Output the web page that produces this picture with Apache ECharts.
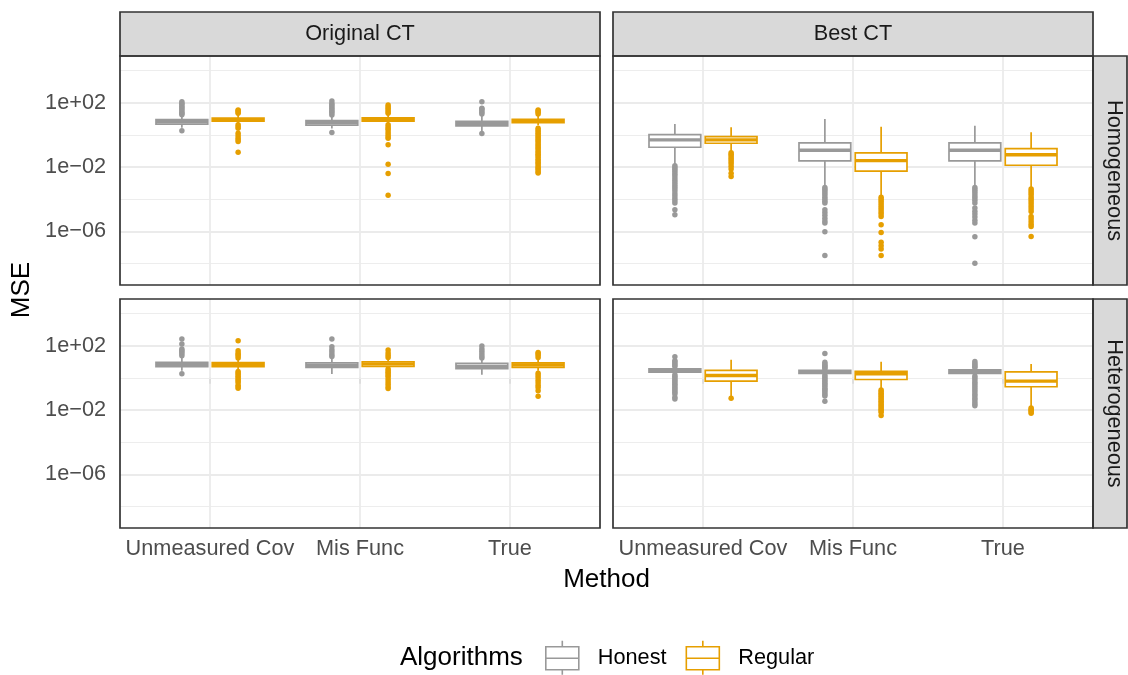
<!DOCTYPE html>
<html><head><meta charset="utf-8">
<script src="https://cdn.jsdelivr.net/npm/echarts@6/dist/echarts.min.js"></script>
<style>html,body{margin:0;padding:0;background:#fff}#chart{width:1128px;height:675px}</style>
</head><body><div id="chart"></div>
<script>
// ---------------- data ----------------
const categories = ['Unmeasured Cov', 'Mis Func', 'True'];
const colLabels = ['Original CT', 'Best CT'];
const rowLabels = ['Homogeneous', 'Heterogeneous'];
const algorithms = ['Honest', 'Regular'];
const algColors = ['#999999', '#E69F00'];
const majorBreaks = [1e-6, 1e-2, 1e2];
const minorBreaks = [1e-8, 1e-4, 1, 1e4];
const yLimits = [4.68e-10, 7.94e4];

// boxes: [lower whisker, Q1, median, Q3, upper whisker] per category
const origHomHonestBox = [[2.8, 4.6, 6.6, 8.8, 15.6], [2.45, 4.0, 5.75, 7.7, 14.5], [1.58, 3.6, 5.0, 6.9, 17]];
const origHomHonestOut = [
  [1.8, 17.8, 20.9, 25.1, 31.6, 39.8, 49, 60, 76, 93, 115],
  [1.38, 17.4, 22.4, 28.2, 35.5, 44.7, 56.2, 70.8, 89.1, 126],
  [1.2, 20, 25.1, 31.6, 39.8, 44.7, 115]
];
const origHomRegularBox = [[5.4, 7.1, 8.8, 11, 19.5], [5.2, 7.2, 8.9, 11.2, 19], [4.0, 5.75, 7.3, 9.2, 17.8]];
const origHomRegularOut = [
  [0.083, 0.38, 0.5, 0.63, 0.89, 1.26, 2.6, 3.3, 4.2, 21.9, 26.3, 31.6, 35.5],
  [0.000178, 0.004, 0.0148, 0.24, 0.62, 0.76, 1.0, 1.41, 2.0, 2.51, 3.16, 4.2, 21.9, 27.5, 35.5, 44.7, 56.2, 72.4],
  [0.0042, 0.005, 0.0065, 0.0079, 0.0098, 0.012, 0.016, 0.019, 0.025, 0.031, 0.04, 0.052, 0.063, 0.08, 0.1, 0.13,
   0.16, 0.2, 0.25, 0.32, 0.41, 0.5, 0.63, 0.8, 1.0, 1.26, 1.6, 2.0, 2.6, 20, 25.1, 30.2, 35.5]
];
const bestHomHonestBox = [[0.0138, 0.17, 0.49, 1.04, 4.8], [6.2e-4, 0.024, 0.11, 0.32, 9.8], [6.2e-4, 0.024, 0.11, 0.32, 3.7]];
const bestHomHonestOut = [
  [1.1e-5, 2.2e-5, 5.8e-5, 8e-5, 1.1e-4, 1.6e-4, 2.2e-4, 3.2e-4, 4.5e-4, 6e-4, 8e-4, 0.0011, 0.0015, 0.0021, 0.003, 0.004, 0.0055, 0.0072, 0.0095, 0.012],
  [3.2e-8, 9.5e-7, 3.3e-6, 4.5e-6, 6.5e-6, 1e-5, 1.5e-5, 2.2e-5, 5.8e-5, 7.5e-5, 1e-4, 1.35e-4, 1.8e-4, 2.4e-4, 3.2e-4, 4.2e-4, 5.4e-4],
  [1.05e-8, 4.7e-7, 3.3e-6, 5e-6, 8e-6, 1.2e-5, 1.8e-5, 2.8e-5, 5.8e-5, 8.5e-5, 1.2e-4, 1.6e-4, 2.2e-4, 3e-4, 4e-4, 5.4e-4]
];
const bestHomRegularBox = [[0.091, 0.30, 0.49, 0.78, 2.95], [1.5e-4, 0.0055, 0.025, 0.076, 3.2], [4.9e-4, 0.0129, 0.058, 0.141, 1.45]];
const bestHomRegularOut = [
  [0.0026, 0.0041, 0.0075, 0.011, 0.016, 0.021, 0.028, 0.037, 0.048, 0.062, 0.078],
  [3.2e-8, 8.1e-8, 1.3e-7, 2.1e-7, 8.7e-7, 2.6e-6, 8.5e-6, 1.2e-5, 1.6e-5, 2.2e-5, 3e-5, 4e-5, 5.5e-5, 7.5e-5, 1e-4, 1.35e-4],
  [4.9e-7, 2e-6, 2.8e-6, 4e-6, 6e-6, 8.5e-6, 1.75e-5, 2.5e-5, 3.5e-5, 5e-5, 7e-5, 9.5e-5, 1.3e-4, 1.8e-4, 2.4e-4, 3.2e-4, 4.3e-4]
];
const origHetHonestBox = [[2.8, 5.0, 6.9, 9.2, 18.6], [1.74, 4.4, 6.0, 8.5, 18.6], [1.58, 3.7, 5.2, 7.9, 15.8]];
const origHetHonestOut = [
  [1.8, 24, 31.6, 39.8, 50, 62, 126, 257],
  [20.9, 28.2, 39.8, 56, 87, 257],
  [17, 22.4, 31.6, 44.7, 62, 95]
];
const origHetRegularBox = [[3.16, 5.0, 6.9, 8.9, 15.1], [4.2, 5.2, 7.4, 10, 16.6], [2.8, 4.4, 6.3, 8.5, 15.8]];
const origHetRegularOut = [
  [0.23, 0.28, 0.35, 0.5, 0.63, 0.8, 1.0, 1.26, 1.6, 2.0, 2.5, 17, 22.4, 28.2, 35.5, 49, 204],
  [0.22, 0.28, 0.4, 0.56, 0.79, 1.12, 1.41, 1.78, 2.24, 2.8, 3.55, 18.6, 25.1, 35.5, 54],
  [0.071, 0.16, 0.25, 0.35, 0.5, 0.71, 1.0, 1.41, 1.9, 18.6, 25.1, 31.6, 38]
];
const bestHetHonestBox = [[1.7, 2.24, 2.82, 3.63, 4.4], [1.78, 1.9, 2.4, 2.95, 3.1], [1.55, 1.9, 2.5, 3.1, 3.55]];
const bestHetHonestOut = [
  [0.048, 0.063, 0.1, 0.126, 0.16, 0.2, 0.25, 0.32, 0.4, 0.5, 0.63, 0.79, 1.0, 1.26, 1.55, 5.0, 6.3, 7.9, 10, 11.5, 20.4],
  [0.035, 0.074, 0.093, 0.12, 0.15, 0.19, 0.23, 0.3, 0.37, 0.47, 0.59, 0.74, 0.93, 1.17, 1.48, 3.55, 4.17, 5.0, 6.0, 7.2, 9.3, 33],
  [0.0186, 0.024, 0.032, 0.043, 0.056, 0.076, 0.1, 0.135, 0.18, 0.24, 0.32, 0.43, 0.56, 0.76, 1.0, 1.32, 4.2, 5.0, 6.3, 7.9, 10.5]
];
const bestHetRegularBox = [[0.071, 0.63, 1.41, 2.95, 13.5], [0.2, 0.79, 1.78, 2.51, 10], [0.0148, 0.28, 0.63, 2.34, 7.2]];
const bestHetRegularOut = [
  [0.054],
  [0.0045, 0.0074, 0.0091, 0.011, 0.014, 0.018, 0.022, 0.028, 0.035, 0.045, 0.056, 0.071, 0.089, 0.112, 0.141, 0.174],
  [0.0063, 0.0079, 0.0095, 0.0112, 0.0132]
];

const panels = [
  {col: 0, row: 0, boxes: [origHomHonestBox, origHomRegularBox], outs: [origHomHonestOut, origHomRegularOut]},
  {col: 1, row: 0, boxes: [bestHomHonestBox, bestHomRegularBox], outs: [bestHomHonestOut, bestHomRegularOut]},
  {col: 0, row: 1, boxes: [origHetHonestBox, origHetRegularBox], outs: [origHetHonestOut, origHetRegularOut]},
  {col: 1, row: 1, boxes: [bestHetHonestBox, bestHetRegularBox], outs: [bestHetHonestOut, bestHetRegularOut]}
];

// ---------------- layout / style ----------------
const FONT = '"Liberation Sans", Arial, Helvetica, sans-serif';
const COL_LEFT = [120, 613];
const ROW_TOP = [56, 299];
const PW = 480, PH = 229;
const DODGE = [-0.1875, 0.1875];
const BOX_W = 0.345;
const LW = 1.7, MED_LW = 3.4;
const SMALL = 21.7, BIG = 26;

const lg = Math.log10;
const yMin = lg(yLimits[0]), yMax = lg(yLimits[1]);
const catIdx = categories.map((c, i) => i);
const majorLog = majorBreaks.map(lg);
const minorLog = minorBreaks.map(lg);

function fmtSci(v) {
  const e = Math.round(v);
  return '1e' + (e < 0 ? '\u2212' : '+') + String(Math.abs(e)).padStart(2, '0');
}

function boxRenderer(a) {
  const color = algColors[a];
  return function (params, api) {
    const x = api.value(0) + DODGE[a];
    const lo = api.coord([x, api.value(1)]);
    const q1 = api.coord([x, api.value(2)]);
    const md = api.coord([x, api.value(3)]);
    const q3 = api.coord([x, api.value(4)]);
    const hi = api.coord([x, api.value(5)]);
    const hw = api.size([BOX_W, 0])[0] / 2;
    return {
      type: 'group',
      children: [
        {type: 'line', shape: {x1: hi[0], y1: hi[1], x2: q3[0], y2: q3[1]}, style: {stroke: color, lineWidth: LW}},
        {type: 'line', shape: {x1: q1[0], y1: q1[1], x2: lo[0], y2: lo[1]}, style: {stroke: color, lineWidth: LW}},
        {type: 'rect', shape: {x: q3[0] - hw, y: q3[1], width: 2 * hw, height: q1[1] - q3[1]},
          style: {fill: '#ffffff', stroke: color, lineWidth: LW}},
        {type: 'line', shape: {x1: md[0] - hw, y1: md[1], x2: md[0] + hw, y2: md[1]}, style: {stroke: color, lineWidth: MED_LW}}
      ]
    };
  };
}

const grids = [], xAxes = [], yAxes = [], series = [], graphics = [];

panels.forEach((p, i) => {
  grids.push({left: COL_LEFT[p.col], top: ROW_TOP[p.row], width: PW, height: PH, show: false, outerBoundsMode: 'none', containLabel: false});
  xAxes.push({
    gridIndex: i, type: 'value', min: -0.6, max: categories.length - 0.4,
    axisLine: {show: false}, splitLine: {show: false},
    axisTick: {show: p.row === 1, customValues: catIdx, length: 6, lineStyle: {color: '#333333', width: 1.5}},
    axisLabel: {show: p.row === 1, customValues: catIdx, formatter: v => categories[Math.round(v)],
      fontSize: SMALL, color: '#4D4D4D', margin: 10, fontFamily: FONT}
  });
  yAxes.push({
    gridIndex: i, type: 'value', min: yMin, max: yMax,
    axisLine: {show: false}, splitLine: {show: false},
    axisTick: {show: p.col === 0, customValues: majorLog, length: 6, lineStyle: {color: '#333333', width: 1.5}},
    axisLabel: {show: p.col === 0, customValues: majorLog, formatter: fmtSci,
      fontSize: SMALL, color: '#4D4D4D', margin: 14, fontFamily: FONT}
  });

  const gridLines = []
    .concat(minorLog.map(v => ({yAxis: v, lineStyle: {color: '#EBEBEB', width: 0.9, type: 'solid'}})))
    .concat(majorLog.map(v => ({yAxis: v, lineStyle: {color: '#EBEBEB', width: 1.8, type: 'solid'}})))
    .concat(catIdx.map(c => ({xAxis: c, lineStyle: {color: '#EBEBEB', width: 1.8, type: 'solid'}})));

  algorithms.forEach((alg, a) => {
    const pts = [];
    p.outs[a].forEach((arr, c) => arr.forEach(v => pts.push([c + DODGE[a], lg(v)])));
    const s = {
      name: alg, type: 'scatter', xAxisIndex: i, yAxisIndex: i, data: pts,
      symbol: 'circle', symbolSize: 5.5, itemStyle: {color: algColors[a], opacity: 1}, z: 2, silent: true
    };
    if (a === 0) {
      s.markLine = {silent: true, symbol: 'none', label: {show: false}, z: 1, animation: false,
        emphasis: {disabled: true}, data: gridLines};
    }
    series.push(s);
  });
  algorithms.forEach((alg, a) => {
    series.push({
      name: alg, type: 'custom', xAxisIndex: i, yAxisIndex: i, z: 3, silent: true,
      itemStyle: {color: algColors[a]},
      encode: {x: 0, y: [1, 2, 3, 4, 5]},
      data: p.boxes[a].map((b, c) => [c].concat(b.map(lg))),
      renderItem: boxRenderer(a)
    });
  });

  graphics.push({type: 'rect', z: 100, silent: true,
    shape: {x: COL_LEFT[p.col], y: ROW_TOP[p.row], width: PW, height: PH},
    style: {fill: null, stroke: '#333333', lineWidth: 1.7}});
});

// strips
colLabels.forEach((t, c) => {
  graphics.push({type: 'rect', z: 90, silent: true, shape: {x: COL_LEFT[c], y: 12, width: PW, height: 44},
    style: {fill: '#D9D9D9', stroke: '#333333', lineWidth: 1.7}});
  graphics.push({type: 'text', z: 91, silent: true, x: COL_LEFT[c] + PW / 2, y: 34,
    style: {text: t, fill: '#1A1A1A', fontSize: SMALL, fontFamily: FONT, align: 'center', verticalAlign: 'middle'}});
});
rowLabels.forEach((t, r) => {
  graphics.push({type: 'rect', z: 90, silent: true, shape: {x: COL_LEFT[1] + PW, y: ROW_TOP[r], width: 34, height: PH},
    style: {fill: '#D9D9D9', stroke: '#333333', lineWidth: 1.7}});
  graphics.push({type: 'text', z: 91, silent: true, x: 1114, y: ROW_TOP[r] + PH / 2, rotation: -Math.PI / 2,
    style: {text: t, fill: '#1A1A1A', fontSize: SMALL, fontFamily: FONT, align: 'center', verticalAlign: 'middle'}});
});
// axis titles, legend title
graphics.push({type: 'text', silent: true, x: 22, y: 290, rotation: Math.PI / 2,
  style: {text: 'MSE', fill: '#000000', fontSize: BIG, fontFamily: FONT, align: 'center', verticalAlign: 'middle'}});
graphics.push({type: 'text', silent: true, x: (COL_LEFT[0] + COL_LEFT[1] + PW) / 2, y: 580,
  style: {text: 'Method', fill: '#000000', fontSize: BIG, fontFamily: FONT, align: 'center', verticalAlign: 'middle'}});
graphics.push({type: 'text', silent: true, x: 400, y: 658,
  style: {text: 'Algorithms', fill: '#000000', fontSize: BIG, fontFamily: FONT, align: 'left', verticalAlign: 'middle'}});

const keyIcon = 'path://M16.5,0 L16.5,6 M0,6 L33,6 L33,29 L0,29 Z M0,17.5 L33,17.5 M16.5,29 L16.5,34';

const option = {
  animation: false,
  backgroundColor: '#ffffff',
  textStyle: {fontFamily: FONT},
  grid: grids, xAxis: xAxes, yAxis: yAxes, series: series,
  legend: {
    left: 545, top: 640, padding: 0, itemWidth: 33, itemHeight: 34, itemGap: 19,
    selectedMode: false, icon: keyIcon,
    textStyle: {fontSize: SMALL, color: '#000000', fontFamily: FONT, padding: [0, 0, 0, 14]},
    data: algorithms.map((a, i) => ({name: a, icon: keyIcon,
      itemStyle: {color: '#ffffff', borderColor: algColors[i], borderWidth: 1.6}}))
  },
  graphic: graphics
};

const chart = echarts.init(document.getElementById('chart'), null, {renderer: 'canvas'});
chart.setOption(option);
</script>
</body></html>
